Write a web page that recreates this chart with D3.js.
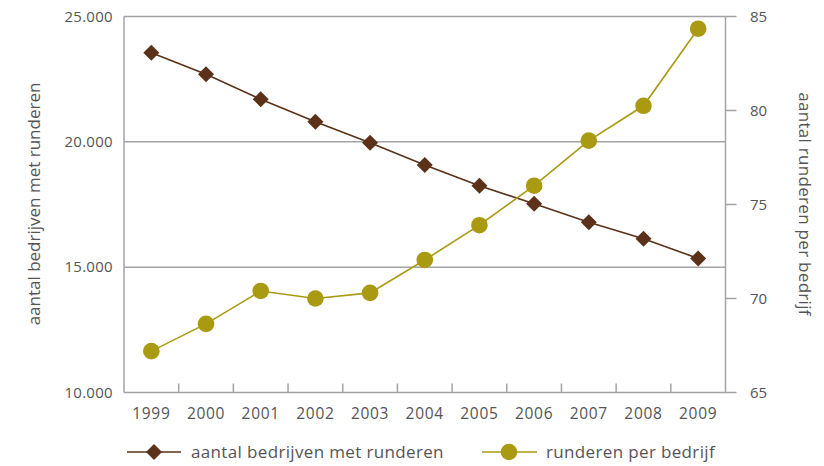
<!DOCTYPE html>
<html><head><meta charset="utf-8">
<script src="https://cdn.jsdelivr.net/npm/d3@7"></script>
<style>
body{margin:0;background:#fff;}
text{font-family:"Open Sans",sans-serif;fill:#555;}
</style></head>
<body><svg id="c" width="824" height="466"></svg>
<script>
const years = ["1999","2000","2001","2002","2003","2004","2005","2006","2007","2008","2009"];
const bedrijven = [23550, 22700, 21700, 20800, 19960, 19080, 18250, 17530, 16790, 16130, 15350];
const perBedrijf = [67.2, 68.65, 70.4, 70.0, 70.3, 72.05, 73.9, 76.0, 78.4, 80.25, 84.35];
const leftTicks = [10000, 15000, 20000, 25000];
const rightTicks = [65, 70, 75, 80, 85];
const seriesNames = ["aantal bedrijven met runderen", "runderen per bedrijf"];
const leftTitle = "aantal bedrijven met runderen";
const rightTitle = "aantal runderen per bedrijf";

const brown = "#5b3119", olive = "#a99a12", grid = "#a3a3a3";
const svg = d3.select("#c");
const L = 124, R = 725.5, T = 16.5, B = 392.5;

const x = d3.scaleBand().domain(years).range([L, R]);
const yL = d3.scaleLinear().domain([10000, 25000]).range([B, T]);
const yR = d3.scaleLinear().domain([65, 85]).range([B, T]);
const fmt = d => d3.format(",")(d).replace(/,/g, ".");

svg.append("g").selectAll("line").data(leftTicks).join("line")
  .attr("x1", L).attr("x2", R).attr("y1", d => yL(d)).attr("y2", d => yL(d))
  .attr("stroke", grid).attr("stroke-width", 1.5);
svg.append("line").attr("x1", L).attr("x2", L).attr("y1", T).attr("y2", B)
  .attr("stroke", grid).attr("stroke-width", 1.5);
svg.append("line").attr("x1", R).attr("x2", R).attr("y1", T).attr("y2", B)
  .attr("stroke", grid).attr("stroke-width", 1.5);
svg.append("g").selectAll("line").data(rightTicks).join("line")
  .attr("x1", R).attr("x2", R + 11).attr("y1", d => yR(d)).attr("y2", d => yR(d))
  .attr("stroke", grid).attr("stroke-width", 1.5);
svg.append("g").selectAll("line").data(years.slice(1)).join("line")
  .attr("x1", d => x(d)).attr("x2", d => x(d)).attr("y1", B).attr("y2", B - 9)
  .attr("stroke", grid).attr("stroke-width", 1.5);

svg.append("g").selectAll("text").data(leftTicks).join("text")
  .attr("x", 113).attr("y", d => yL(d) + 5).attr("text-anchor", "end")
  .attr("font-size", 15).attr("letter-spacing", 0.3).text(fmt);
svg.append("g").selectAll("text").data(rightTicks).join("text")
  .attr("x", 750).attr("y", d => yR(d) + 5).attr("text-anchor", "start")
  .attr("font-size", 15).text(d => d);
svg.append("g").selectAll("text").data(years).join("text")
  .attr("x", d => x(d) + x.bandwidth() / 2).attr("y", 419).attr("text-anchor", "middle")
  .attr("font-size", 15.5).attr("letter-spacing", 0.7).text(d => d);

svg.append("text").attr("transform", "translate(40,204) rotate(-90)")
  .attr("text-anchor", "middle").attr("font-size", 17).text(leftTitle);
svg.append("text").attr("transform", "translate(799,204) rotate(90)")
  .attr("text-anchor", "middle").attr("font-size", 17).attr("letter-spacing", 0.3).text(rightTitle);

const cx = (d, i) => x(years[i]) + x.bandwidth() / 2;
const diamond = d3.symbol().type(d3.symbolSquare).size(128);

svg.append("path").datum(bedrijven)
  .attr("d", d3.line().x(cx).y(d => yL(d)))
  .attr("fill", "none").attr("stroke", brown).attr("stroke-width", 1.6);
svg.append("g").selectAll("path").data(bedrijven).join("path")
  .attr("d", diamond)
  .attr("transform", (d, i) => `translate(${cx(d, i)},${yL(d)}) rotate(45)`)
  .attr("fill", brown);

svg.append("path").datum(perBedrijf)
  .attr("d", d3.line().x(cx).y(d => yR(d)))
  .attr("fill", "none").attr("stroke", olive).attr("stroke-width", 1.6);
svg.append("g").selectAll("circle").data(perBedrijf).join("circle")
  .attr("cx", cx).attr("cy", d => yR(d)).attr("r", 8.3).attr("fill", olive);

const lg = svg.append("g");
lg.append("line").attr("x1", 127).attr("x2", 181).attr("y1", 452).attr("y2", 452)
  .attr("stroke", brown).attr("stroke-width", 1.6);
lg.append("path").attr("d", diamond).attr("transform", "translate(154,452) rotate(45)").attr("fill", brown);
lg.append("text").attr("x", 191).attr("y", 458).attr("font-size", 17).attr("letter-spacing", 0.35).text(seriesNames[0]);
lg.append("line").attr("x1", 482).attr("x2", 537).attr("y1", 452).attr("y2", 452)
  .attr("stroke", olive).attr("stroke-width", 1.6);
lg.append("circle").attr("cx", 509).attr("cy", 452).attr("r", 8.3).attr("fill", olive);
lg.append("text").attr("x", 546).attr("y", 458).attr("font-size", 17).attr("letter-spacing", 0.35).text(seriesNames[1]);
</script></body></html>
